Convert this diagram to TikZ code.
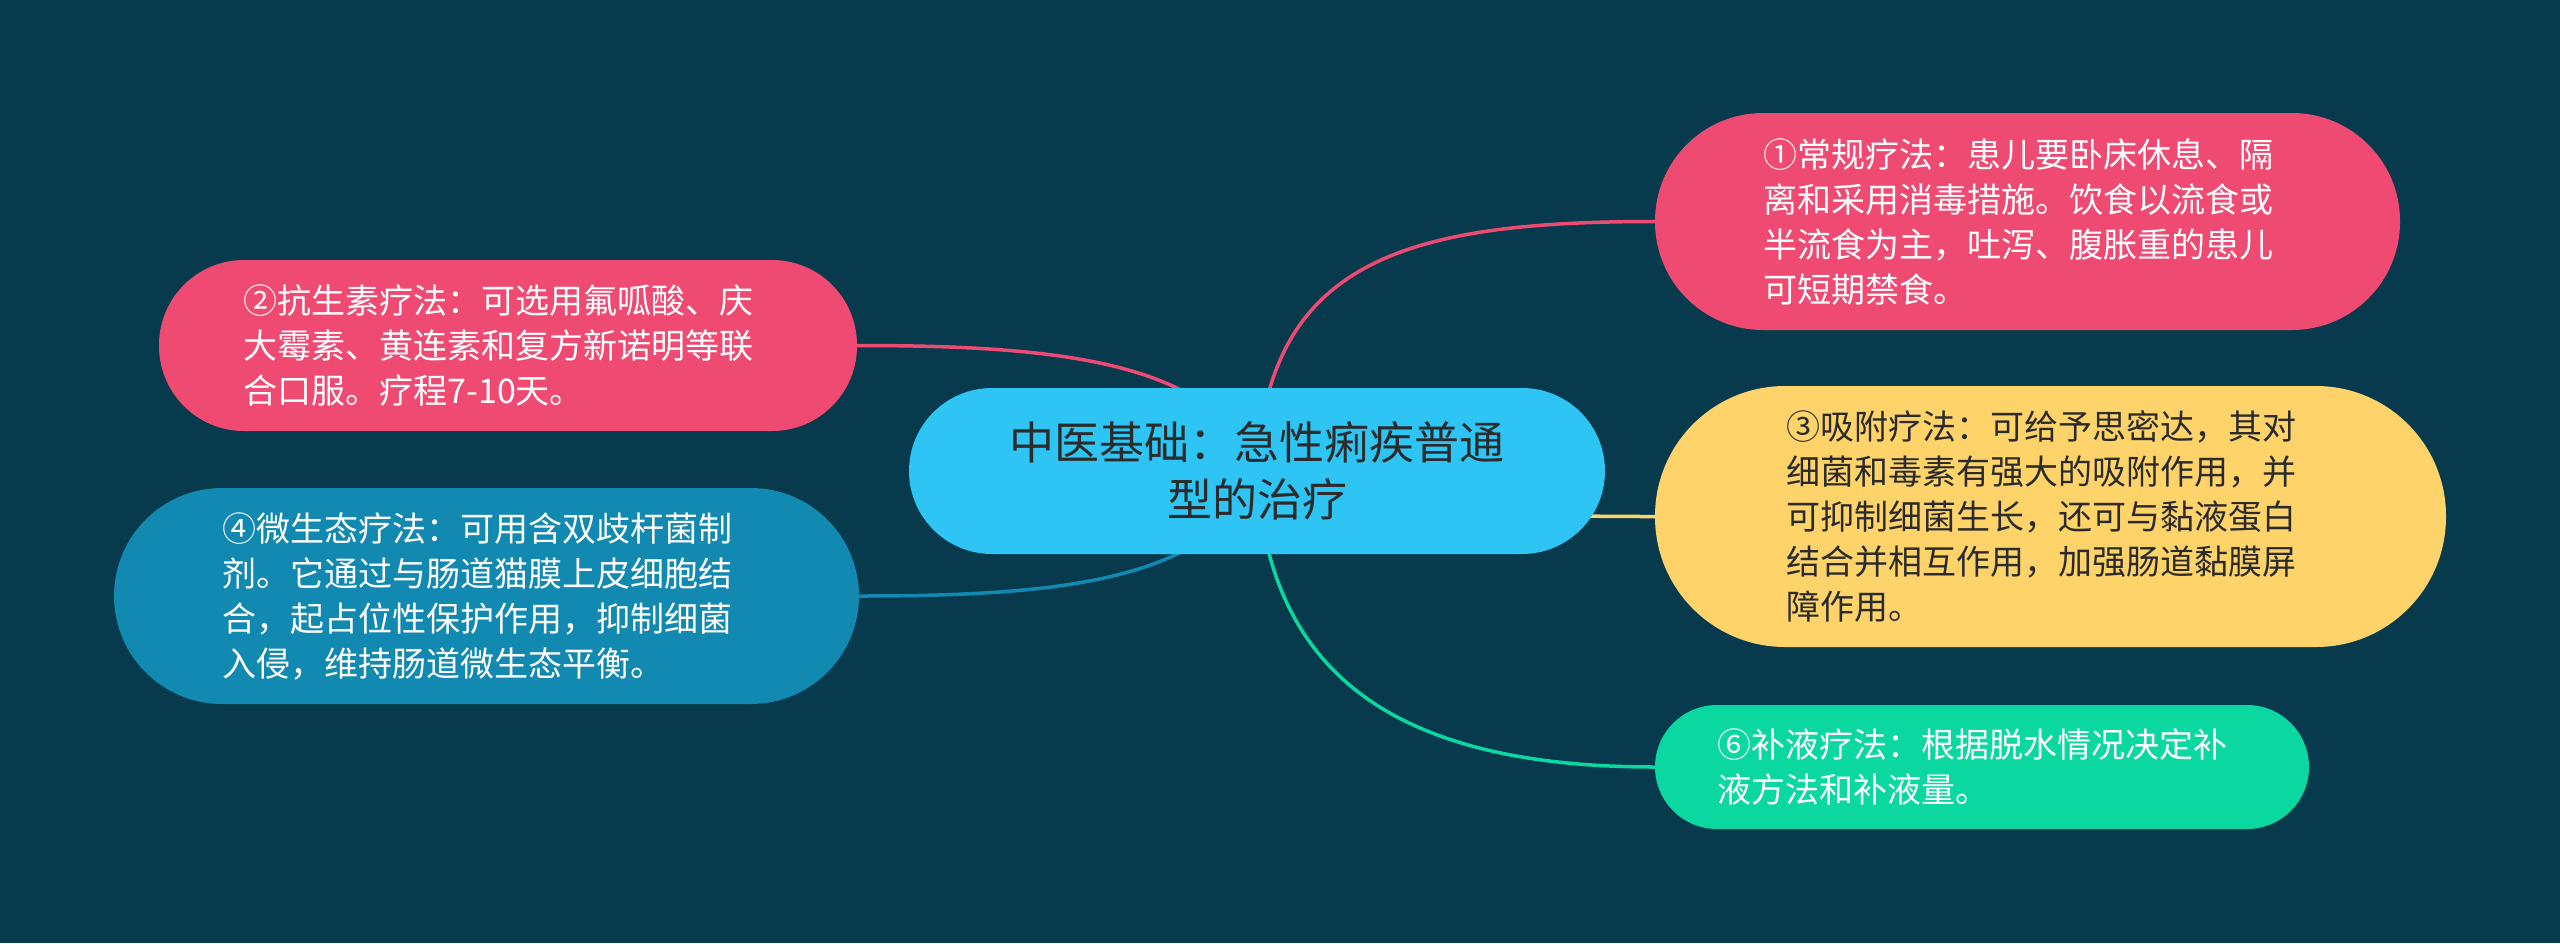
\documentclass[tikz,border=0pt]{standalone}
\usepackage{fontspec}
\newfontfamily\cjk{Noto Sans CJK SC}
\pgfdeclarelayer{background}
\pgfsetlayers{background,main}
\definecolor{bgc}{HTML}{073A4C}
\definecolor{pinkc}{HTML}{EF4A72}
\definecolor{rootc}{HTML}{2EC4F4}
\definecolor{bluec}{HTML}{1289B1}
\definecolor{yellowc}{HTML}{FDD36A}
\definecolor{greenc}{HTML}{0BD8A0}
\definecolor{darktext}{HTML}{2B2B2B}
\tikzset{
  leaf/.style={inner sep=0pt, text width=529pt, align=left, text=white,
    font=\cjk\fontsize{34pt}{45pt}\selectfont},
  rootbox/.style={inner sep=0pt, align=center, text=darktext, fill=rootc,
    font=\cjk\fontsize{45pt}{57pt}\selectfont},
  link/.style={line width=3.5pt}
}
\begin{document}
\begin{tikzpicture}[x=1pt,y=-1pt]
\useasboundingbox (0,0) rectangle (2560,943);
\begin{pgfonlayer}{background}
\fill[bgc] (0,0) rectangle (2560,943);
\end{pgfonlayer}

\node[rootbox, minimum width=696pt, minimum height=166pt, rounded corners=83pt] (root) at (1257,471)
  {中医基础：急性痢疾普通\\型的治疗};

\node[leaf, fill=pinkc, minimum width=745pt, minimum height=217pt, rounded corners=108pt] (n1) at (2027.5,221.5)
  {①常规疗法：患儿要卧床休息、隔\\离和采用消毒措施。饮食以流食或\\半流食为主，吐泻、腹胀重的患儿\\可短期禁食。};

\node[leaf, fill=pinkc, minimum width=698pt, minimum height=171pt, rounded corners=85pt] (n2) at (508,345.5)
  {②抗生素疗法：可选用氟呱酸、庆\\大霉素、黄连素和复方新诺明等联\\合口服。疗程7-10天。};

\node[leaf, fill=yellowc, text=darktext, minimum width=791pt, minimum height=261pt, rounded corners=130pt] (n3) at (2050.5,516.5)
  {③吸附疗法：可给予思密达，其对\\细菌和毒素有强大的吸附作用，并\\可抑制细菌生长，还可与黏液蛋白\\结合并相互作用，加强肠道黏膜屏\\障作用。};

\node[leaf, fill=bluec, minimum width=745pt, minimum height=216pt, rounded corners=108pt] (n4) at (486.5,596)
  {④微生态疗法：可用含双歧杆菌制\\剂。它通过与肠道猫膜上皮细胞结\\合，起占位性保护作用，抑制细菌\\入侵，维持肠道微生态平衡。};

\node[leaf, fill=greenc, minimum width=654pt, minimum height=124pt, rounded corners=62pt] (n6) at (1982,767)
  {⑥补液疗法：根据脱水情况决定补\\液方法和补液量。};

\begin{pgfonlayer}{background}
\draw[link, draw=pinkc] (root.center) .. controls +(10,-210) and +(-250,0) .. (n1.west);
\draw[link, draw=pinkc] (root.center) .. controls +(-40,-110) and +(200,0) .. (n2.east);
\draw[link, draw=yellowc] (root.center) .. controls +(150,45) and +(-100,0) .. (n3.west);
\draw[link, draw=bluec] (root.center) .. controls +(-40,110) and +(200,0) .. (n4.east);
\draw[link, draw=greenc] (root.center) .. controls +(10,210) and +(-250,0) .. (n6.west);
\end{pgfonlayer}
\end{tikzpicture}
\end{document}
